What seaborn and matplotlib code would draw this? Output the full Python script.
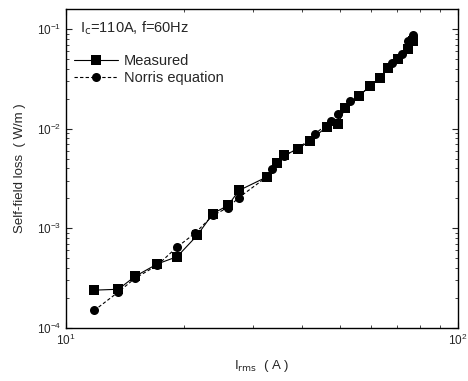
import numpy as np
import pandas as pd
import matplotlib
matplotlib.use("Agg")
import matplotlib.pyplot as plt
import seaborn as sns
from matplotlib.ticker import LogLocator, NullFormatter

meas_I = [11.8, 13.6, 15.0, 17.1, 19.2, 21.6, 23.7, 25.9, 27.6, 32.6, 34.5, 36.0,
          39.1, 41.9, 46.3, 49.4, 51.5, 55.9, 59.7, 63.2, 66.3, 70.3, 74.5, 76.8]
meas_L = [2.4e-4, 2.45e-4, 3.3e-4, 4.4e-4, 5.2e-4, 8.5e-4, 1.41e-3, 1.70e-3, 2.40e-3,
          3.3e-3, 4.5e-3, 5.4e-3, 6.3e-3, 7.6e-3, 1.05e-2, 1.12e-2, 1.62e-2, 2.14e-2,
          2.69e-2, 3.24e-2, 4.07e-2, 5.0e-2, 6.3e-2, 7.6e-2]
norris_I = [11.8, 13.6, 15.0, 17.1, 19.2, 21.3, 23.7, 25.9, 27.6, 32.6, 33.5, 36.0,
            39.1, 43.2, 47.4, 49.4, 53.0, 55.9, 59.7, 63.2, 67.9, 71.9, 74.5, 76.8]
norris_L = [1.5e-4, 2.3e-4, 3.16e-4, 4.27e-4, 6.5e-4, 8.9e-4, 1.35e-3, 1.62e-3, 2.04e-3,
            3.31e-3, 3.9e-3, 5.37e-3, 6.31e-3, 8.9e-3, 1.2e-2, 1.41e-2, 1.91e-2, 2.14e-2,
            2.69e-2, 3.24e-2, 4.57e-2, 5.6e-2, 7.6e-2, 8.7e-2]

df = pd.concat([
    pd.DataFrame({"I": meas_I, "L": meas_L, "s": "Measured"}),
    pd.DataFrame({"I": norris_I, "L": norris_L, "s": "Norris equation"}),
])

sns.set_style("ticks")
plt.rcParams['font.family'] = ['Liberation Sans', 'DejaVu Sans']

fig = plt.figure(figsize=(4.68, 3.81), dpi=100)
ax = fig.add_axes([0.141, 0.139, 0.838, 0.837])

sns.lineplot(data=df, x="I", y="L", hue="s", style="s",
             palette=["black", "black"], markers={"Measured": "s", "Norris equation": "o"},
             dashes={"Measured": "", "Norris equation": (3, 2)},
             markersize=6.5, linewidth=0.8, markeredgewidth=0, sort=False,
             estimator=None, ax=ax)

ax.set_xscale("log")
ax.set_yscale("log")
ax.set_xlim(10, 100)
ax.set_ylim(1e-4, 10 ** -0.8)

for sp in ax.spines.values():
    sp.set_visible(True)
    sp.set_linewidth(1.0)
    sp.set_color("black")

ax.tick_params(which="both", direction="in", top=True, right=True, labelsize=8.5)
ax.tick_params(which="major", length=4)
ax.tick_params(which="minor", length=2)
ax.yaxis.set_minor_locator(LogLocator(base=10, subs=np.arange(2, 10)))
ax.yaxis.set_minor_formatter(NullFormatter())
ax.xaxis.set_minor_locator(LogLocator(base=10, subs=np.arange(2, 10)))
ax.xaxis.set_minor_formatter(NullFormatter())

ax.set_xlabel(r"I$_{\rm rms}$  ( A )", fontsize=9.5, labelpad=7)
ax.set_ylabel("Self-field loss  ( W/m )", fontsize=9.5, labelpad=8)

ax.text(0.035, 0.94, r"I$_{\rm c}$=110A, f=60Hz", transform=ax.transAxes,
        fontsize=10.5, va="center", ha="left")

leg = ax.legend(loc="upper left", bbox_to_anchor=(-0.005, 0.89), frameon=False,
                fontsize=10.5, title=None, handlelength=3.0, handletextpad=0.4,
                labelspacing=0.2, borderaxespad=0.3)

fig.savefig("out.png", dpi=100)
